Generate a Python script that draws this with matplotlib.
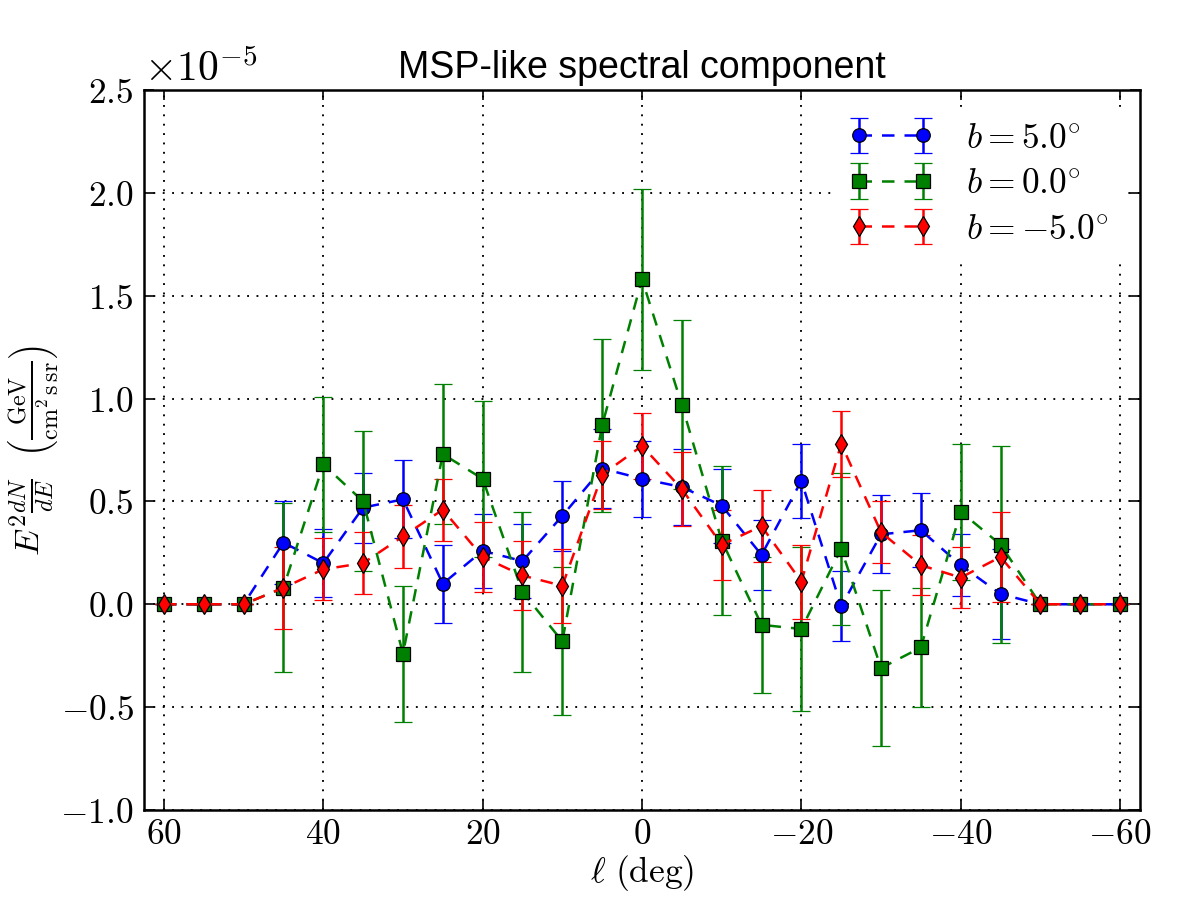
import matplotlib
matplotlib.use('Agg')
import matplotlib.pyplot as plt
from matplotlib.ticker import FuncFormatter, MultipleLocator

plt.rcParams['mathtext.fontset'] = 'cm'
plt.rcParams['font.family'] = ['Liberation Sans', 'DejaVu Sans']

# Galactic longitude bins (deg)
ell = [60, 55, 50, 45, 40, 35, 30, 25, 20, 15, 10, 5, 0,
       -5, -10, -15, -20, -25, -30, -35, -40, -45, -50, -55, -60]

# E^2 dN/dE in units of 1e-5 GeV cm^-2 s^-1 sr^-1
b_pos5 = [0, 0, 0, 0.30, 0.20, 0.47, 0.51, 0.10, 0.26, 0.21, 0.43, 0.66, 0.61,
          0.57, 0.48, 0.24, 0.60, -0.01, 0.34, 0.36, 0.19, 0.05, 0, 0, 0]
b_pos5_err = [0, 0, 0, 0.20, 0.165, 0.17, 0.19, 0.19, 0.18, 0.18, 0.17, 0.19, 0.185,
              0.185, 0.18, 0.17, 0.18, 0.17, 0.19, 0.18, 0.15, 0.22, 0, 0, 0]

b_zero = [0, 0, 0, 0.08, 0.68, 0.50, -0.24, 0.73, 0.61, 0.06, -0.18, 0.87, 1.58,
          0.97, 0.31, -0.10, -0.12, 0.27, -0.31, -0.21, 0.45, 0.29, 0, 0, 0]
b_zero_err = [0, 0, 0, 0.41, 0.33, 0.34, 0.33, 0.34, 0.38, 0.39, 0.36, 0.42, 0.44,
              0.41, 0.36, 0.33, 0.40, 0.37, 0.38, 0.29, 0.33, 0.48, 0, 0, 0]

b_neg5 = [0, 0, 0, 0.08, 0.17, 0.20, 0.33, 0.46, 0.23, 0.14, 0.09, 0.63, 0.77,
          0.56, 0.29, 0.38, 0.11, 0.78, 0.35, 0.19, 0.13, 0.23, 0, 0, 0]
b_neg5_err = [0, 0, 0, 0.20, 0.15, 0.15, 0.155, 0.15, 0.17, 0.17, 0.18, 0.165, 0.16,
              0.18, 0.17, 0.175, 0.18, 0.16, 0.15, 0.145, 0.15, 0.22, 0, 0, 0]

series = [
    (b_pos5, b_pos5_err, 'b', 'o', r'$b = 5.0^{\circ}$'),
    (b_zero, b_zero_err, 'g', 's', r'$b = 0.0^{\circ}$'),
    (b_neg5, b_neg5_err, 'r', 'd', r'$b = -5.0^{\circ}$'),
]
scale = 1e-5

fig = plt.figure(figsize=(8, 6), dpi=150)
ax = fig.add_axes([0.12, 0.1, 0.83, 0.8])

for vals, errs, col, mk, lab in series:
    ax.errorbar(ell, [v * scale for v in vals], yerr=[e * scale for e in errs],
                color=col, marker=mk, linestyle='--', dashes=(5, 4), lw=1.2,
                markersize=6.5, markeredgecolor='black', markeredgewidth=0.6,
                capsize=4.5, elinewidth=1.2, capthick=1.0, label=lab)

ax.set_xlim(62.5, -62.5)
ax.set_ylim(-1.0e-5, 2.5e-5)
ax.xaxis.set_major_locator(MultipleLocator(20))
ax.yaxis.set_major_locator(MultipleLocator(0.5e-5))
ax.xaxis.set_major_formatter(FuncFormatter(lambda v, p: r'$%d$' % round(v)))
ax.yaxis.set_major_formatter(FuncFormatter(lambda v, p: r'$%.1f$' % (v / scale)))
ax.tick_params(direction='in', top=True, right=True, labelsize=17, length=5)
ax.tick_params(axis='x', pad=4)
ax.tick_params(axis='y', pad=5)
ax.grid(True, color='black', linestyle=(0, (1, 4)), linewidth=0.9)
for sp in ax.spines.values():
    sp.set_linewidth(1.2)

ax.text(0.0, 1.0, r'$\times10^{-5}$', transform=ax.transAxes, fontsize=20,
        ha='left', va='bottom')
ax.set_title('MSP-like spectral component', fontsize=18)
ax.set_xlabel(r'$\ell\ (\mathrm{deg})$', fontsize=17, labelpad=1)
ax.set_ylabel(r'$E^2\frac{dN}{dE}\ \ \left(\frac{\mathrm{GeV}}{\mathrm{cm}^2\,\mathrm{s}\,\mathrm{sr}}\right)$',
              fontsize=16.5, labelpad=0)

leg = ax.legend(loc='upper right', numpoints=2, fontsize=17, framealpha=1,
                edgecolor='white', fancybox=False, handlelength=2.4,
                handletextpad=0.9, labelspacing=0.35, borderaxespad=0.5)

plt.savefig('out.png', dpi=150)
